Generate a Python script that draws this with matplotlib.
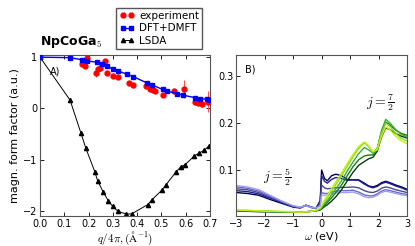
import matplotlib

matplotlib.use("Agg")

import matplotlib.pyplot as plt
from matplotlib.lines import Line2D

plt.rcParams["mathtext.fontset"] = "cm"
plt.rcParams["font.family"] = "DejaVu Sans"

# Panel A: magnetic form factor
exp_q = [0.124, 0.172, 0.185, 0.195, 0.23, 0.24, 0.247, 0.268, 0.277, 0.302, 0.322,
         0.368, 0.384, 0.436, 0.453, 0.467, 0.473, 0.505, 0.552, 0.593, 0.638, 0.652,
         0.666, 0.69]
exp_f = [1.06, 0.86, 0.82, 0.99, 0.69, 0.76, 0.78, 0.92, 0.69, 0.64, 0.62,
         0.49, 0.45, 0.43, 0.38, 0.36, 0.34, 0.27, 0.34, 0.38, 0.13, 0.10,
         0.08, 0.13]
exp_err = [0.04, 0.05, 0.04, 0.04, 0.08, 0.05, 0.05, 0.04, 0.04, 0.05, 0.04,
           0.05, 0.05, 0.05, 0.04, 0.04, 0.04, 0.04, 0.06, 0.18, 0.06, 0.06,
           0.06, 0.2]

dmft_q = [0.0, 0.124, 0.172, 0.192, 0.233, 0.254, 0.275, 0.302, 0.322, 0.357, 0.384,
          0.439, 0.46, 0.505, 0.521, 0.563, 0.587, 0.638, 0.659, 0.686, 0.7]
dmft_f = [1.0, 0.99, 0.95, 0.93, 0.90, 0.86, 0.83, 0.76, 0.73, 0.67, 0.62,
          0.50, 0.46, 0.37, 0.34, 0.29, 0.26, 0.21, 0.19, 0.18, 0.16]

lsda_q = [0.0, 0.124, 0.169, 0.189, 0.226, 0.237, 0.26, 0.281, 0.299, 0.322, 0.354,
          0.377, 0.443, 0.462, 0.503, 0.519, 0.56, 0.58, 0.597, 0.635, 0.656, 0.676,
          0.696]
lsda_f = [1.0, 0.16, -0.49, -0.78, -1.24, -1.41, -1.63, -1.80, -1.91, -2.01, -2.06,
          -2.06, -1.88, -1.78, -1.59, -1.49, -1.24, -1.14, -1.10, -0.93, -0.87, -0.82,
          -0.73]

# Panel B: spectra for j=5/2 and j=7/2
omega = [-3.0, -2.6, -2.2, -1.8, -1.4, -1.0, -0.75, -0.55, -0.35, -0.2, -0.05, 0.0,
         0.1, 0.2, 0.35, 0.5, 0.7, 0.9, 1.1, 1.3, 1.5, 1.65, 1.8, 1.95, 2.1, 2.25,
         2.4, 2.6, 2.8, 3.0]

j52_curves = [
    [0.052, 0.050, 0.046, 0.037, 0.029, 0.021, 0.019, 0.025, 0.020, 0.018, 0.035, 0.100,
     0.082, 0.077, 0.088, 0.091, 0.088, 0.080, 0.079, 0.079, 0.072, 0.066, 0.064, 0.067,
     0.073, 0.076, 0.073, 0.068, 0.064, 0.059],
    [0.056, 0.054, 0.049, 0.040, 0.031, 0.022, 0.020, 0.025, 0.021, 0.019, 0.032, 0.088,
     0.076, 0.072, 0.080, 0.084, 0.082, 0.078, 0.079, 0.078, 0.070, 0.065, 0.062, 0.065,
     0.071, 0.074, 0.071, 0.066, 0.062, 0.057],
    [0.060, 0.058, 0.052, 0.042, 0.032, 0.023, 0.020, 0.024, 0.020, 0.019, 0.028, 0.068,
     0.062, 0.060, 0.061, 0.062, 0.063, 0.063, 0.064, 0.062, 0.056, 0.053, 0.052, 0.055,
     0.061, 0.064, 0.062, 0.058, 0.055, 0.052],
    [0.064, 0.061, 0.055, 0.044, 0.033, 0.023, 0.020, 0.024, 0.020, 0.019, 0.025, 0.052,
     0.050, 0.050, 0.053, 0.055, 0.056, 0.056, 0.057, 0.053, 0.047, 0.045, 0.045, 0.049,
     0.055, 0.058, 0.056, 0.053, 0.050, 0.048],
    [0.067, 0.064, 0.058, 0.046, 0.034, 0.024, 0.021, 0.024, 0.020, 0.019, 0.023, 0.046,
     0.046, 0.047, 0.050, 0.051, 0.052, 0.052, 0.053, 0.049, 0.043, 0.041, 0.042, 0.046,
     0.052, 0.055, 0.053, 0.050, 0.047, 0.045],
]
j52_colors = ["#00005a", "#1e1e96", "#4a4a80", "#6868d4", "#a0a0ec"]

j72_curves = [
    [0.012, 0.012, 0.011, 0.011, 0.010, 0.010, 0.010, 0.011, 0.012, 0.013, 0.015, 0.017,
     0.022, 0.026, 0.034, 0.043, 0.058, 0.077, 0.095, 0.110, 0.118, 0.124, 0.127, 0.140,
     0.170, 0.190, 0.186, 0.178, 0.172, 0.168],
    [0.013, 0.013, 0.012, 0.011, 0.011, 0.010, 0.010, 0.011, 0.012, 0.013, 0.016, 0.019,
     0.025, 0.031, 0.041, 0.052, 0.068, 0.088, 0.107, 0.122, 0.130, 0.132, 0.132, 0.145,
     0.180, 0.202, 0.196, 0.185, 0.178, 0.174],
    [0.013, 0.013, 0.012, 0.012, 0.011, 0.010, 0.010, 0.011, 0.012, 0.013, 0.017, 0.020,
     0.028, 0.035, 0.047, 0.060, 0.077, 0.098, 0.117, 0.135, 0.148, 0.143, 0.136, 0.146,
     0.184, 0.208, 0.200, 0.186, 0.176, 0.170],
    [0.014, 0.014, 0.013, 0.012, 0.011, 0.011, 0.010, 0.011, 0.012, 0.014, 0.018, 0.022,
     0.032, 0.041, 0.055, 0.069, 0.088, 0.108, 0.128, 0.146, 0.158, 0.150, 0.138, 0.145,
     0.178, 0.200, 0.193, 0.178, 0.167, 0.162],
    [0.015, 0.014, 0.013, 0.012, 0.012, 0.011, 0.010, 0.011, 0.012, 0.014, 0.019, 0.024,
     0.036, 0.046, 0.061, 0.075, 0.094, 0.114, 0.133, 0.150, 0.160, 0.152, 0.139, 0.143,
     0.172, 0.192, 0.186, 0.172, 0.162, 0.156],
]
j72_colors = ["#0a3a0a", "#1a7a1a", "#30b030", "#8cd81c", "#c4ee10"]


def style_axes(ax):
    ax.tick_params(direction="in", top=True, right=True, labelsize=7,
                   length=3, width=0.6, pad=2)
    for spine in ax.spines.values():
        spine.set_color("#555555")
        spine.set_linewidth(0.8)


fig = plt.figure(figsize=(4.15, 2.46), dpi=100)
ax_a = fig.add_axes([0.0964, 0.122, 0.4096, 0.654])
ax_b = fig.add_axes([0.569, 0.122, 0.412, 0.654])

ax_a.errorbar(exp_q, exp_f, yerr=exp_err, fmt="o", color="red", ms=3.5,
              elinewidth=0.8, ecolor="#ff5050", capsize=0, zorder=3)
ax_a.plot(dmft_q, dmft_f, "-s", color="blue", ms=3.5, lw=1.0, zorder=4)
ax_a.plot(lsda_q, lsda_f, "-^", color="black", ms=3, lw=0.7)
ax_a.set_xlim(0.0, 0.7)
ax_a.set_ylim(-2.1, 1.04)
ax_a.set_xticks([0.0, 0.1, 0.2, 0.3, 0.4, 0.5, 0.6, 0.7])
ax_a.set_yticks([-2, -1, 0, 1])
ax_a.set_xlabel(r"$q/4\pi,(\mathrm{\AA}^{-1})$", fontsize=8, labelpad=1)
ax_a.set_ylabel("magn. form factor (a.u.)", fontsize=8, labelpad=2)
ax_a.text(0.09, 0.9, "A)", transform=ax_a.transAxes, fontsize=7,
          ha="center", va="center")
style_axes(ax_a)

handles = [
    Line2D([], [], ls="none", marker="o", color="red", ms=3.5),
    Line2D([], [], ls="-", marker="s", color="blue", ms=3, lw=1.0),
    Line2D([], [], ls="-", marker="^", color="black", ms=3, lw=0.7),
]
ax_a.legend(handles, ["experiment", "DFT+DMFT", "LSDA"], loc="upper left",
            bbox_to_anchor=(0.268, 0.99), bbox_transform=fig.transFigure,
            fontsize=7.5, numpoints=2, fancybox=False, edgecolor="#555555",
            framealpha=1, handlelength=1.4, handletextpad=0.5, borderpad=0.3,
            labelspacing=0.25)
fig.text(0.171, 0.83, r"NpCoGa$_5$", fontsize=9, fontweight="bold",
         ha="center", va="center")

for vals, col in zip(j52_curves, j52_colors):
    ax_b.plot(omega, vals, color=col, lw=1.0)
for vals, col in zip(j72_curves, j72_colors):
    ax_b.plot(omega, vals, color=col, lw=1.0)
ax_b.set_xlim(-3, 3)
ax_b.set_ylim(0.002, 0.345)
ax_b.set_xticks([-3, -2, -1, 0, 1, 2, 3])
ax_b.set_yticks([0.1, 0.2, 0.3])
ax_b.set_xlabel(r"$\omega$ (eV)", fontsize=8, labelpad=1)
ax_b.text(0.08, 0.91, "B)", transform=ax_b.transAxes, fontsize=7,
          ha="center", va="center")
ax_b.text(2.05, 0.243, r"$j=\frac{7}{2}$", fontsize=10, ha="center", va="center")
ax_b.text(-1.56, 0.085, r"$j=\frac{5}{2}$", fontsize=10, ha="center", va="center")
style_axes(ax_b)

fig.savefig("out.png", dpi=100)
